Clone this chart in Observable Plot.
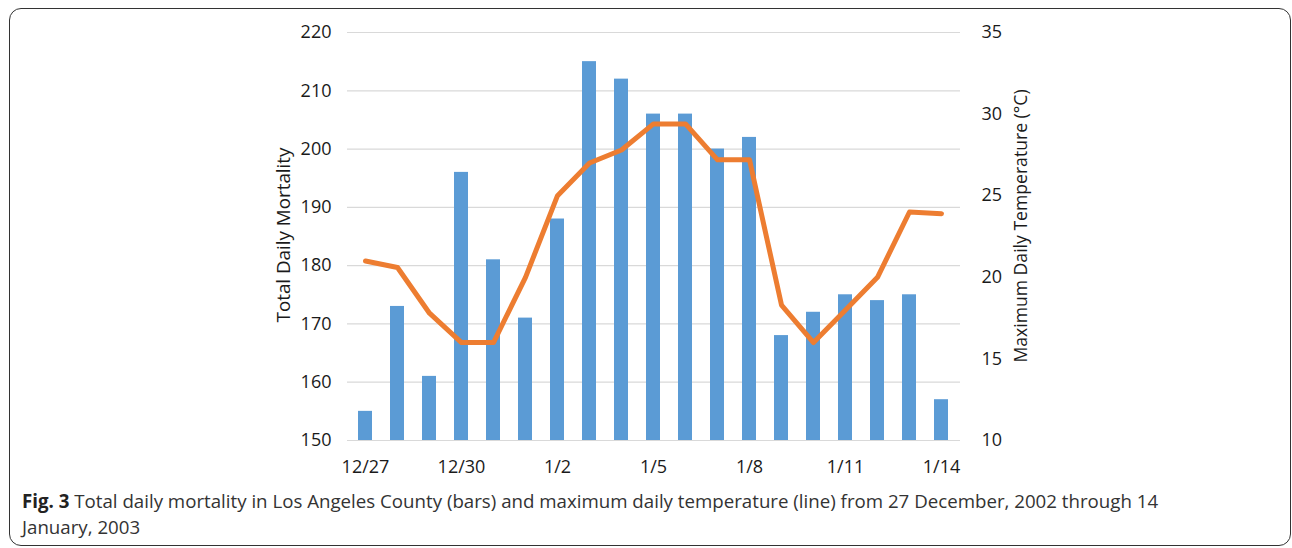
<!DOCTYPE html>
<html>
<head>
<meta charset="utf-8">
<script src="https://cdn.jsdelivr.net/npm/d3@7"></script>
<script src="https://cdn.jsdelivr.net/npm/@observablehq/plot@0.6"></script>
<style>
  html, body { margin: 0; padding: 0; background: #fff; }
  #wrap { position: relative; width: 1292px; height: 548px; overflow: hidden; }
  #frame { position: absolute; left: 9px; top: 8px; width: 1282px; height: 538px; border: 1.5px solid #333; border-radius: 12px; box-sizing: border-box; }
  #chart { position: absolute; left: 0; top: 0; }
  #caption { position: absolute; left: 22px; top: 488px; width: 1250px; font-family: "Open Sans", sans-serif; font-size: 18.7px; line-height: 26px; color: #333; white-space: nowrap; }
  #caption b { color: #222; }
</style>
</head>
<body>
<div id="wrap">
  <div id="frame"></div>
  <div id="chart"></div>
  <div id="caption"><b>Fig. 3</b> Total daily mortality in Los Angeles County (bars) and maximum daily temperature (line) from 27 December, 2002 through 14<br>January, 2003</div>
</div>
<script>
const days = ["12/27","12/28","12/29","12/30","12/31","1/1","1/2","1/3","1/4","1/5","1/6","1/7","1/8","1/9","1/10","1/11","1/12","1/13","1/14"];
const mortality = [155,173,161,196,181,171,188,215,212,206,206,200,202,168,172,175,174,175,157];
const maxTemp = [21.0,20.6,17.8,16.0,16.0,20.0,25.0,27.0,27.8,29.4,29.4,27.2,27.2,18.3,16.0,18.0,20.0,24.0,23.9];
const xTickLabels = ["12/27","12/30","1/2","1/5","1/8","1/11","1/14"];
const leftTicks = [150,160,170,180,190,200,210,220];
const rightTicks = [10,15,20,25,30,35];

// map temperature (10..35) onto mortality scale (150..220)
const tToM = t => 150 + (t - 10) * (70 / 25);
const mToT = m => 10 + (m - 150) * (25 / 70);

const data = days.map((d, i) => ({day: d, m: mortality[i], t: maxTemp[i]}));

const font = "Open Sans, sans-serif";
const plot = Plot.plot({
  width: 1292,
  height: 480,
  marginTop: 32,
  marginBottom: 40,
  marginLeft: 347,
  marginRight: 332,
  style: {fontFamily: font, fontSize: "18px", color: "#1a1a1a", background: "transparent"},
  x: {domain: days, paddingInner: 0.56, paddingOuter: 0.28, label: null},
  y: {domain: [150, 220], label: null},
  marks: [
    Plot.gridY(leftTicks, {stroke: "#d9d9d9", strokeOpacity: 1, strokeWidth: 1.2}),
    Plot.barY(data, {x: "day", y1: 150, y2: "m", fill: "#5B9BD5"}),
    Plot.line(data, {x: "day", y: d => tToM(d.t), stroke: "#ED7D31", strokeWidth: 5, strokeLinejoin: "round", strokeLinecap: "round"}),
    Plot.axisX({ticks: xTickLabels, tickSize: 0, tickPadding: 20, label: null}),
    Plot.axisY({anchor: "left", ticks: leftTicks, tickSize: 0, tickPadding: 16, label: null}),
    Plot.axisY({anchor: "right", ticks: rightTicks.map(tToM), tickFormat: m => String(Math.round(mToT(m))), tickSize: 0, tickPadding: 21, label: null})
  ]
});
document.getElementById("chart").appendChild(plot);

const svg = d3.select(plot);
svg.append("text")
  .attr("transform", "translate(283,235) rotate(-90)")
  .attr("text-anchor", "middle").attr("dominant-baseline", "central")
  .attr("font-family", font).attr("font-size", 18.8).attr("fill", "#1a1a1a")
  .text("Total Daily Mortality");
svg.append("text")
  .attr("transform", "translate(1020,226) rotate(-90)")
  .attr("text-anchor", "middle").attr("dominant-baseline", "central")
  .attr("font-family", font).attr("font-size", 17.6).attr("fill", "#1a1a1a")
  .text("Maximum Daily Temperature (°C)");
</script>
</body>
</html>
